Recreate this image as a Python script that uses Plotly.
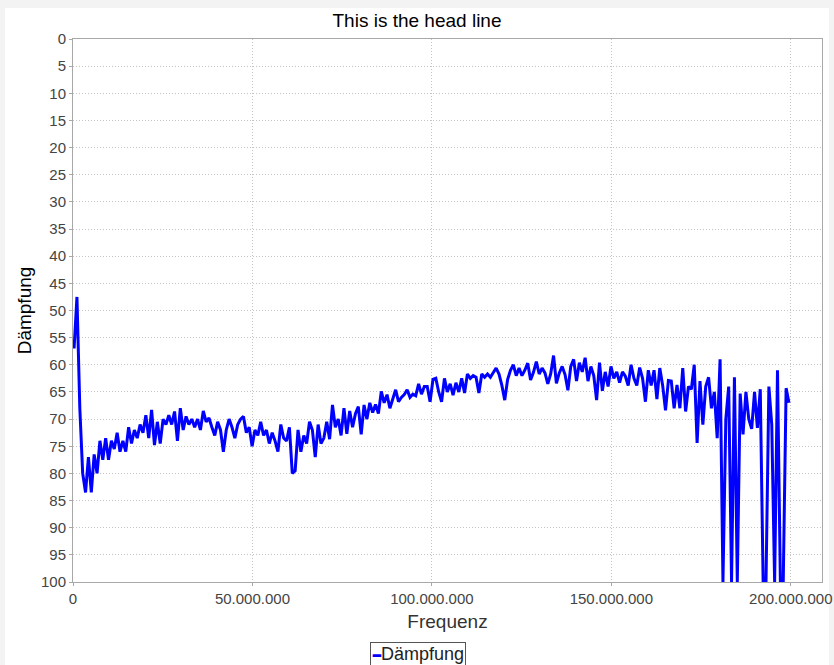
import plotly.graph_objects as go

# Frequency sweep (Hz): start and step of the measurement grid
FREQ_START = 300_000
FREQ_STEP = 800_000

# Attenuation values (Dämpfung)
daempfung = [
    57, 47.5, 68, 80, 83.5, 77, 83.5, 76.5, 80, 74,
    77.5, 73.5, 77.5, 74, 75.5, 72.5, 76, 74, 76, 71.5,
    74.5, 72, 73.5, 71, 72.5, 69.3, 73.5, 68.3, 74.8, 70.5,
    74.5, 70, 71, 69.3, 71, 68.6, 74, 68, 72, 69.5,
    71, 70, 71.5, 70, 72, 68.5, 70.5, 69.8, 71.5, 73,
    70.5, 72, 76, 72, 70, 71.5, 73.5, 71, 70, 69.5,
    72.5, 71.5, 75, 72, 73, 70.5, 73, 72, 74.5, 72.5,
    74, 76, 71, 73.5, 74, 71.5, 80, 79.5, 72, 76,
    73, 74.5, 70.5, 72, 77, 71, 74.5, 73.5, 70.5, 73.7,
    67.4, 71.5, 70, 73, 68, 72.7, 68.5, 71.5, 69, 67.7,
    72.8, 67.4, 70, 67, 68.8, 67.3, 69, 64.9, 67, 65.5,
    68, 66.2, 64.6, 66.8, 66, 65.5, 64.6, 66, 65.4, 65.7,
    63.5, 65.4, 64, 64, 66.8, 62.7, 62.5, 65, 66.8, 62.5,
    65, 63.5, 65.6, 63.3, 65, 62.5, 65.2, 61.7, 62.5, 62,
    62.3, 65.2, 61.7, 62.3, 61.7, 62.3, 61.5, 60.6, 61.7, 63.8,
    66.5, 62.7, 61, 60, 62, 60.6, 62, 61, 59.7, 62.8,
    61.4, 59.4, 61.7, 60.6, 61.5, 63.5, 61.7, 58.3, 63.4, 61.5,
    60.3, 61.8, 64.7, 60.3, 59, 63, 59.6, 61.3, 58.7, 63,
    60.3, 62, 66.5, 59.6, 64.8, 61.3, 64, 60.3, 62.5, 61.3,
    63.3, 61.3, 62.1, 63.8, 60, 62.5, 63.8, 60.5, 62.5, 66.8,
    61, 63.8, 61, 66.3, 60.6, 63.8, 68.4, 62.9, 63, 68,
    63.7, 68, 60.6, 68.6, 64, 64.5, 60, 74.4, 63, 71,
    64, 62.3, 68, 65, 73.5, 59, 100, 70, 64, 100,
    62.3, 100, 65.3, 72.8, 65, 70, 71.8, 65, 71.6, 64.5,
    100, 100, 64, 71, 100, 61, 100, 100, 64.3, 67,
]
frequenz = [FREQ_START + i * FREQ_STEP for i in range(len(daempfung))]

TITLE = "This is the head line"
X_TITLE = "Frequenz"
Y_TITLE = "Dämpfung"
SERIES_NAME = "Dämpfung"

FONT = "Liberation Sans, Arial, sans-serif"

W, H = 834, 665
L, R, T, B = 73, 12, 39, 83
PW, PH = W - L - R, H - T - B

fig = go.Figure()
fig.add_trace(go.Scatter(
    x=frequenz, y=daempfung, mode="lines", name=SERIES_NAME,
    line=dict(color="#0000ff", width=3),
    showlegend=False,
))

# light window frame around the white chart area
fig.add_shape(type="rect", xref="paper", yref="paper",
              x0=(5 - L) / PW, x1=(829 - L) / PW,
              y0=(PH + T - 680) / PH, y1=(PH + T - 8) / PH,
              fillcolor="white", line=dict(width=0), layer="below")

# legend box (bordered item under the x-axis title)
fig.add_annotation(
    xref="paper", yref="paper",
    x=(418 - L) / PW, y=(PH + T - 654) / PH,
    xanchor="center", yanchor="middle", showarrow=False,
    text=(f"<span style='color:#0000ff;font-size:13px'><b>━</b></span>"
          f"{SERIES_NAME}"),
    font=dict(family=FONT, size=18, color="#222222"),
    bordercolor="#555555", borderwidth=1, borderpad=1, bgcolor="white",
)

axis_common = dict(
    showgrid=True, gridcolor="#c4c4c4", griddash="1px,2px", gridwidth=1,
    showline=True, linecolor="#a8a8a8", linewidth=1, mirror=True,
    ticks="outside", ticklen=3, tickcolor="#a8a8a8",
    tickfont=dict(family=FONT, size=15, color="#444444"),
    zeroline=False, automargin=False,
)

fig.update_layout(
    width=W, height=H,
    margin=dict(l=L, r=R, t=T, b=B),
    paper_bgcolor="#f3f3f3",
    plot_bgcolor="white",
    separators=",.",
    font=dict(family=FONT, color="#222222"),
    title=dict(text=TITLE, x=0.5, xref="container", xanchor="center",
               y=1 - 20 / H, yref="container", yanchor="middle",
               font=dict(family=FONT, size=19, color="#000000")),
    xaxis=dict(range=[0, 208_700_000], dtick=50_000_000, tick0=0,
               tickformat=",d",
               title=dict(text=X_TITLE, standoff=8,
                          font=dict(family=FONT, size=19, color="#333333")),
               **axis_common),
    yaxis=dict(range=[100, 0], dtick=5, tick0=0,
               title=dict(text=Y_TITLE, standoff=4,
                          font=dict(family=FONT, size=19, color="#000000")),
               **axis_common),
    showlegend=False,
)

fig.write_html(
    "out.html",
    config={"displayModeBar": False},
    post_script="document.body.style.margin='0';document.body.style.background='#f3f3f3';",
)
